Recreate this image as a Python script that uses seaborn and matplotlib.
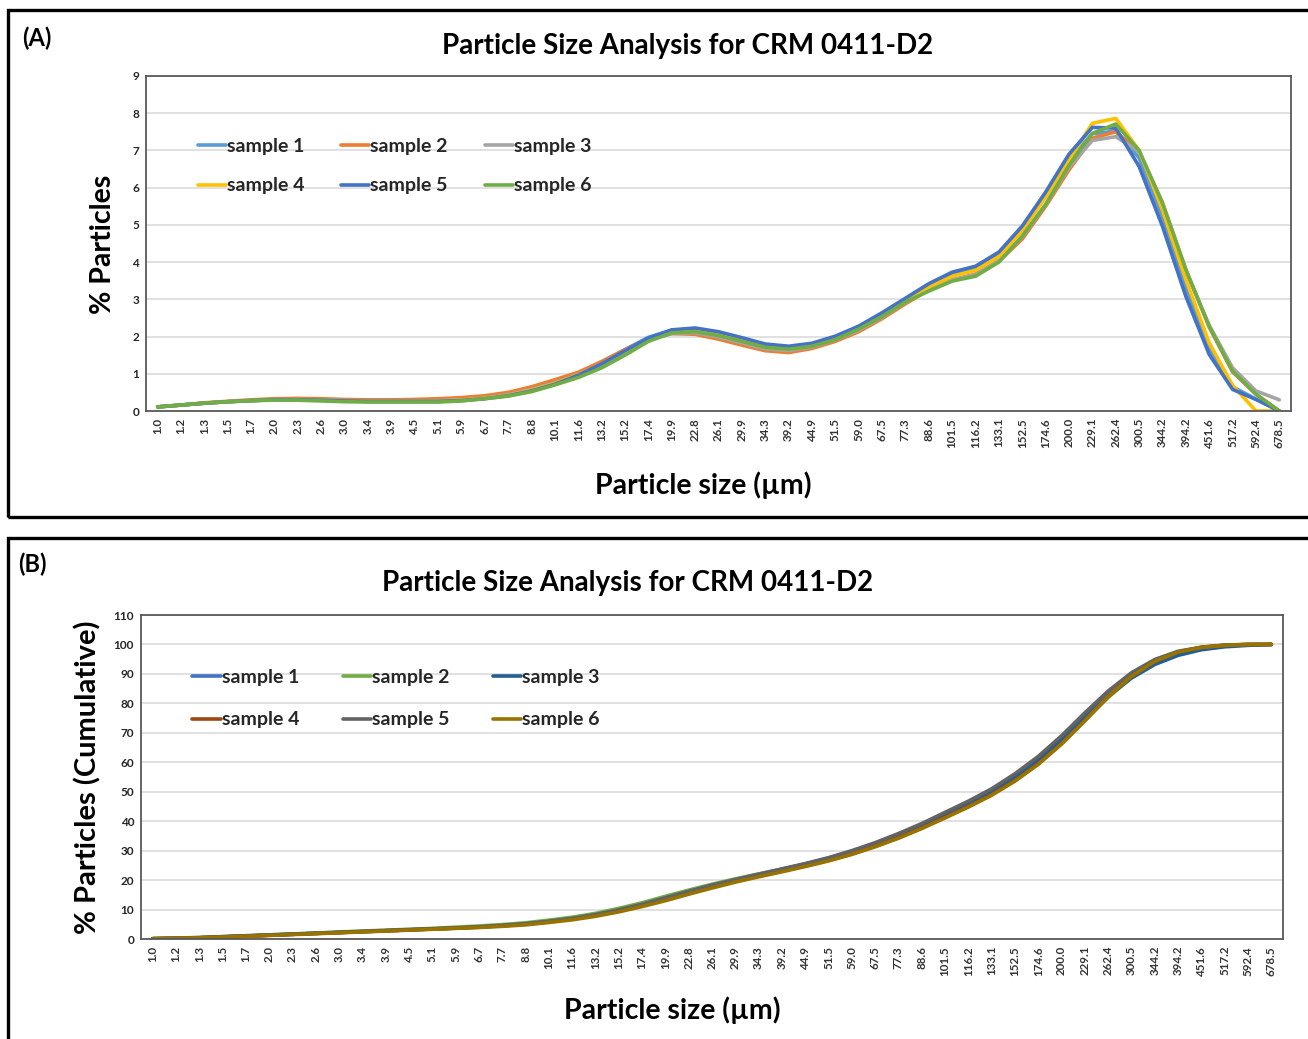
import numpy as np
import pandas as pd
import matplotlib
matplotlib.use("Agg")
import matplotlib.pyplot as plt
from matplotlib.patches import Rectangle
import seaborn as sns

# ---------------- data ----------------
sizes = ["1.0", "1.2", "1.3", "1.5", "1.7", "2.0", "2.3", "2.6", "3.0", "3.4",
         "3.9", "4.5", "5.1", "5.9", "6.7", "7.7", "8.8", "10.1", "11.6", "13.2",
         "15.2", "17.4", "19.9", "22.8", "26.1", "29.9", "34.3", "39.2", "44.9", "51.5",
         "59.0", "67.5", "77.3", "88.6", "101.5", "116.2", "133.1", "152.5", "174.6", "200.0",
         "229.1", "262.4", "300.5", "344.2", "394.2", "451.6", "517.2", "592.4", "678.5"]

samples = ["sample 1", "sample 2", "sample 3", "sample 4", "sample 5", "sample 6"]

# (A) % particles per size class
pct_s1 = [0.11, 0.16, 0.21, 0.25, 0.28, 0.30, 0.31, 0.30, 0.28, 0.27, 0.27, 0.27, 0.28, 0.30, 0.35, 0.43, 0.57,
          0.76, 1.00, 1.30, 1.65, 1.98, 2.17, 2.20, 2.10, 1.94, 1.77, 1.71, 1.79, 1.98, 2.25, 2.60, 2.99,
          3.37, 3.68, 3.83, 4.20, 4.88, 5.78, 6.75, 7.45, 7.52, 6.80, 5.20, 3.30, 1.70, 0.65, 0.32, 0.00]
pct_s2 = [0.11, 0.16, 0.22, 0.26, 0.30, 0.33, 0.34, 0.33, 0.31, 0.30, 0.30, 0.31, 0.33, 0.36, 0.41, 0.50, 0.65,
          0.84, 1.04, 1.33, 1.65, 1.93, 2.08, 2.06, 1.93, 1.77, 1.62, 1.57, 1.68, 1.87, 2.13, 2.48, 2.88,
          3.25, 3.52, 3.68, 4.02, 4.62, 5.50, 6.48, 7.33, 7.50, 6.97, 5.60, 3.80, 2.25, 1.05, 0.45, 0.00]
pct_s3 = [0.11, 0.16, 0.21, 0.25, 0.28, 0.31, 0.31, 0.30, 0.28, 0.27, 0.27, 0.27, 0.28, 0.30, 0.35, 0.44, 0.58,
          0.76, 0.97, 1.25, 1.58, 1.90, 2.08, 2.10, 1.99, 1.83, 1.67, 1.62, 1.72, 1.91, 2.17, 2.52, 2.92,
          3.28, 3.53, 3.66, 4.05, 4.68, 5.55, 6.55, 7.27, 7.37, 6.97, 5.55, 3.75, 2.30, 1.16, 0.54, 0.30]
pct_s4 = [0.11, 0.16, 0.21, 0.25, 0.28, 0.30, 0.30, 0.29, 0.27, 0.26, 0.26, 0.26, 0.27, 0.29, 0.34, 0.42, 0.56,
          0.74, 0.97, 1.27, 1.61, 1.94, 2.14, 2.16, 2.05, 1.89, 1.72, 1.66, 1.75, 1.95, 2.22, 2.57, 2.97,
          3.34, 3.62, 3.78, 4.15, 4.85, 5.75, 6.75, 7.73, 7.86, 7.00, 5.40, 3.53, 1.83, 0.69, 0.00, 0.00]
pct_s5 = [0.11, 0.16, 0.21, 0.25, 0.28, 0.30, 0.30, 0.29, 0.27, 0.26, 0.26, 0.26, 0.26, 0.28, 0.33, 0.41, 0.54,
          0.72, 0.96, 1.27, 1.62, 1.96, 2.18, 2.23, 2.13, 1.97, 1.80, 1.74, 1.82, 2.01, 2.28, 2.64, 3.03,
          3.42, 3.73, 3.89, 4.27, 4.97, 5.88, 6.90, 7.62, 7.60, 6.57, 4.96, 3.08, 1.52, 0.58, 0.31, 0.00]
pct_s6 = [0.11, 0.16, 0.21, 0.25, 0.28, 0.29, 0.29, 0.27, 0.25, 0.24, 0.24, 0.24, 0.24, 0.27, 0.33, 0.40, 0.52,
          0.70, 0.90, 1.16, 1.50, 1.87, 2.10, 2.13, 2.03, 1.87, 1.71, 1.66, 1.74, 1.92, 2.20, 2.54, 2.93,
          3.22, 3.49, 3.62, 4.00, 4.70, 5.55, 6.60, 7.46, 7.71, 7.00, 5.58, 3.80, 2.28, 1.07, 0.45, 0.00]

# (B) cumulative % particles
cum_s1 = [0.1, 0.3, 0.5, 0.8, 1.1, 1.4, 1.7, 2.0, 2.3, 2.6, 2.9, 3.2, 3.5, 3.8, 4.2, 4.6, 5.2, 5.9, 6.9, 8.2,
          9.8, 11.8, 13.9, 16.1, 18.2, 20.1, 21.9, 23.7, 25.5, 27.5, 29.8, 32.4, 35.4, 38.8, 42.5, 46.3,
          50.5, 55.4, 61.2, 68.0, 75.6, 83.1, 89.5, 94.2, 97.2, 98.8, 99.5, 99.9, 100.0]
cum_s2 = [0.1, 0.3, 0.5, 0.8, 1.1, 1.4, 1.7, 2.0, 2.4, 2.7, 3.0, 3.3, 3.6, 4.0, 4.4, 4.9, 5.5, 6.4, 7.4, 8.7,
          10.4, 12.3, 14.5, 16.6, 18.6, 20.4, 22.1, 23.7, 25.4, 27.3, 29.5, 32.1, 35.0, 38.3, 41.9, 45.6,
          49.6, 54.4, 60.0, 66.6, 74.3, 82.0, 88.8, 93.8, 97.1, 98.9, 99.7, 100.0, 100.0]
cum_s3 = [0.1, 0.2, 0.4, 0.7, 1.0, 1.3, 1.6, 1.9, 2.2, 2.5, 2.8, 3.1, 3.4, 3.7, 4.1, 4.5, 5.1, 5.9, 6.9, 8.1,
          9.7, 11.6, 13.7, 15.9, 18.0, 19.9, 21.7, 23.4, 25.2, 27.2, 29.5, 32.1, 35.1, 38.5, 42.2, 45.9,
          50.0, 54.9, 60.7, 67.5, 75.1, 82.4, 88.6, 93.2, 96.3, 98.2, 99.2, 99.7, 100.0]
cum_s4 = [0.1, 0.2, 0.4, 0.7, 1.0, 1.3, 1.6, 1.9, 2.2, 2.5, 2.8, 3.1, 3.4, 3.7, 4.0, 4.5, 5.0, 5.8, 6.8, 8.0,
          9.6, 11.4, 13.5, 15.6, 17.7, 19.6, 21.4, 23.1, 24.8, 26.7, 28.9, 31.5, 34.4, 37.7, 41.3, 45.0,
          49.0, 53.8, 59.5, 66.3, 74.2, 82.4, 89.2, 94.3, 97.5, 99.1, 99.8, 100.0, 100.0]
cum_s5 = [0.1, 0.2, 0.4, 0.7, 1.0, 1.3, 1.6, 1.9, 2.2, 2.5, 2.8, 3.1, 3.4, 3.7, 4.1, 4.6, 5.2, 6.0, 7.0, 8.3,
          9.9, 11.8, 14.0, 16.2, 18.3, 20.2, 22.0, 23.8, 25.6, 27.6, 30.0, 32.7, 35.8, 39.2, 43.0, 46.8,
          51.0, 56.1, 62.0, 69.0, 76.8, 84.2, 90.4, 94.9, 97.7, 99.0, 99.7, 100.0, 100.0]
cum_s6 = [0.1, 0.2, 0.4, 0.6, 0.9, 1.2, 1.5, 1.8, 2.1, 2.4, 2.7, 3.0, 3.3, 3.6, 3.9, 4.3, 4.8, 5.6, 6.5, 7.7,
          9.2, 11.0, 13.0, 15.2, 17.3, 19.3, 21.1, 22.8, 24.6, 26.5, 28.7, 31.3, 34.2, 37.5, 41.1, 44.8,
          48.8, 53.6, 59.3, 66.2, 74.1, 82.3, 89.2, 94.3, 97.4, 99.0, 99.7, 100.0, 100.0]

colors_a = ["#5B9BD5", "#ED7D31", "#A5A5A5", "#FFC000", "#4472C4", "#70AD47"]
colors_b = ["#4472C4", "#70AD47", "#255E91", "#9E480E", "#636363", "#997300"]

title_text = "Particle Size Analysis for CRM 0411-D2"
xlabel_text = "Particle size (µm)"
ylabel_a = "% Particles"
ylabel_b = "% Particles (Cumulative)"

# ---------------- style ----------------
sns.set_theme(style="white")
FONT = ["Lato", "DejaVu Sans"]
plt.rcParams["font.family"] = FONT
plt.rcParams["font.weight"] = "bold"

W, H = 1308, 1039
fig = plt.figure(figsize=(W / 100, H / 100), dpi=100)
fig.patch.set_facecolor("white")


def long_df(series):
    rows = []
    for name, vals in zip(samples, series):
        for s, v in zip(sizes, vals):
            rows.append({"size": s, "value": v, "sample": name})
    return pd.DataFrame(rows)


def px_ax(left, top, right, bottom):
    return fig.add_axes([left / W, 1 - bottom / H, (right - left) / W, (bottom - top) / H])


def draw_panel(ax, df, colors, ymax, ystep, leg_anchor, colspacing, labelspacing):
    pal = dict(zip(samples, colors))
    sns.lineplot(data=df, x="size", y="value", hue="sample", hue_order=samples,
                 palette=pal, linewidth=2.6, sort=False, ax=ax, legend=True)
    ax.set_xlim(-0.5, len(sizes) - 0.5)
    ax.set_ylim(0, ymax)
    ax.set_yticks(np.arange(0, ymax + 0.001, ystep))
    ax.set_xticks(range(len(sizes)))
    ax.set_xticklabels(sizes, rotation=90, fontsize=8.3, fontweight="bold", color="#333333")
    for t in ax.get_yticklabels():
        t.set_fontsize(8.5)
        t.set_fontweight("bold")
        t.set_color("#262626")
    ax.tick_params(axis="both", length=0, pad=5)
    ax.yaxis.grid(True, color="#D9D9D9", linewidth=1.1)
    ax.xaxis.grid(False)
    ax.set_axisbelow(True)
    for sp in ax.spines.values():
        sp.set_visible(True)
        sp.set_color("#595959")
        sp.set_linewidth(1.3)
    ax.set_xlabel("")
    ax.set_ylabel("")
    handles, labels = ax.get_legend_handles_labels()
    order = [0, 3, 1, 4, 2, 5]
    ax.legend([handles[i] for i in order], [labels[i] for i in order], ncol=3,
              loc="upper left", bbox_to_anchor=leg_anchor, frameon=False,
              prop={"family": FONT, "weight": "bold", "size": 14},
              handlelength=1.45, handletextpad=0.05, columnspacing=colspacing,
              labelspacing=labelspacing, borderpad=0, borderaxespad=0)


# panel frames
fig.add_artist(Rectangle((8 / W, 1 - 517 / H), 1.2, (517 - 10) / H, transform=fig.transFigure,
                         fill=False, edgecolor="black", linewidth=2.4, clip_on=False))
fig.add_artist(Rectangle((8 / W, -0.2), 1.2, 0.2 + (1039 - 538) / H, transform=fig.transFigure,
                         fill=False, edgecolor="black", linewidth=2.4, clip_on=False))

# (A)
axA = px_ax(146, 76, 1291, 411)
df_a = long_df([pct_s1, pct_s2, pct_s3, pct_s4, pct_s5, pct_s6])
draw_panel(axA, df_a, colors_a, 9, 1, (0.045, 0.815), 1.9, 1.15)

# (B)
axB = px_ax(141, 615, 1283, 939)
df_b = long_df([cum_s1, cum_s2, cum_s3, cum_s4, cum_s5, cum_s6])
draw_panel(axB, df_b, colors_b, 110, 10, (0.045, 0.833), 2.25, 1.3)


def ftext(x, y, s, size, rot=0, ha="center"):
    fig.text(x / W, 1 - y / H, s, fontsize=size, fontweight="bold", rotation=rot,
             ha=ha, va="center", color="black", family=FONT)


ftext(688, 46, title_text, 20)
ftext(628, 583, title_text, 20)
ftext(703, 485, xlabel_text, 20.5)
ftext(672, 1010, xlabel_text, 20.5)
ftext(103, 244, ylabel_a, 20.5, rot=90)
ftext(88, 777, ylabel_b, 21, rot=90)
ftext(22, 38, "(A)", 17, ha="left")
ftext(18, 564, "(B)", 17, ha="left")

fig.savefig("out.png", dpi=100, facecolor="white")
